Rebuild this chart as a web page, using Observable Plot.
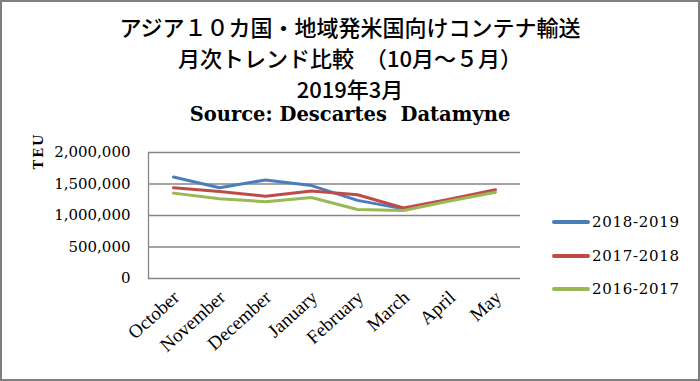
<!DOCTYPE html>
<html><head><meta charset="utf-8">
<script src="https://cdn.jsdelivr.net/npm/d3@7"></script>
<script src="https://cdn.jsdelivr.net/npm/@observablehq/plot@0.6"></script>
<style>
body{margin:0;background:#fff}
#wrap{position:relative;width:700px;height:381px;overflow:hidden;background:#fff}
#frame{position:absolute;left:0;top:0;width:700px;height:381px;box-sizing:border-box;border:2px solid #7f7f7f;pointer-events:none;z-index:5}
#chart{position:absolute;left:0;top:0}
.t{position:absolute;left:0;width:700px;text-align:center;color:#000;white-space:pre;z-index:3}
.jp{font-family:"Noto Sans CJK JP",sans-serif;font-size:22px;line-height:26px;font-weight:500}
.src{font-family:"DejaVu Serif",serif;font-weight:bold;font-size:19.5px;line-height:26px}
#teu{position:absolute;left:38px;top:151px;transform:translate(-50%,-50%) rotate(-90deg);font-family:"DejaVu Serif",serif;font-weight:bold;font-size:13px;letter-spacing:2px;z-index:3}
.leg{position:absolute;left:552px;z-index:3;display:flex;align-items:center;height:20px}
.leg .sw{width:38px;height:4px;border-radius:2px;margin-right:2px}
.leg .lb{font-family:"DejaVu Serif",serif;font-size:15px;letter-spacing:0.7px;color:#000}
</style></head>
<body>
<div id="wrap">
  <div id="chart"></div>
  <div class="t jp" style="top:13px">アジア１０カ国・地域発米国向けコンテナ輸送</div>
  <div class="t jp" style="top:44px">月次トレンド比較　（10月～５月）</div>
  <div class="t jp" style="top:75px">2019年3月</div>
  <div class="t src" style="top:102px">Source: Descartes  Datamyne</div>
  <div id="teu">TEU</div>
  <div id="legend"></div>
  <div id="frame"></div>
</div>
<script>
const months = ["October","November","December","January","February","March","April","May"];
const seriesNames = ["2018-2019","2017-2018","2016-2017"];
const seriesColors = ["#4A7EBB","#BE4B48","#98B954"];
const s2018_2019 = [1610000,1440000,1565000,1475000,1240000,1105000];
const s2017_2018 = [1440000,1380000,1305000,1390000,1330000,1120000,1260000,1410000];
const s2016_2017 = [1355000,1265000,1220000,1285000,1095000,1080000,1230000,1370000];
const yTicks = [0,500000,1000000,1500000,2000000];

const seriesValues = [s2018_2019, s2017_2018, s2016_2017];
const data = [];
seriesNames.forEach((name, i) => {
  seriesValues[i].forEach((v, j) => data.push({series: name, month: months[j], value: v}));
});

const chart = Plot.plot({
  width: 700,
  height: 381,
  marginLeft: 148,
  marginRight: 180,
  marginTop: 152,
  marginBottom: 103,
  style: {background: "transparent", fontFamily: "DejaVu Serif", color: "#000"},
  x: {type: "point", domain: months, padding: 0.5, label: null},
  y: {domain: [0, 2000000], label: null},
  color: {domain: seriesNames, range: seriesColors},
  marks: [
    Plot.gridY(yTicks, {stroke: "#868686", strokeOpacity: 1, strokeWidth: 1.3}),
    Plot.frame({anchor: "left", stroke: "#868686", strokeWidth: 1.3}),
    Plot.axisY(yTicks, {tickSize: 0, tickPadding: 18, tickFormat: d3.format(","), fontSize: 15, fontFamily: "DejaVu Serif", letterSpacing: 0.7, label: null}),
    Plot.axisX({tickSize: 0, tickPadding: 16, dx: 3, tickRotate: -42, fontSize: 19, fontFamily: "Liberation Serif", label: null}),
    Plot.line(data, {x: "month", y: "value", z: "series", stroke: "series", strokeWidth: 3, strokeLinejoin: "round", strokeLinecap: "round"})
  ]
});
document.getElementById("chart").appendChild(chart);

const legend = document.getElementById("legend");
const legendTops = [212, 246, 279];
seriesNames.forEach((name, i) => {
  const row = document.createElement("div");
  row.className = "leg";
  row.style.top = legendTops[i] + "px";
  row.innerHTML = `<div class="sw" style="background:${seriesColors[i]}"></div><div class="lb">${name}</div>`;
  legend.appendChild(row);
});
</script>
</body></html>
